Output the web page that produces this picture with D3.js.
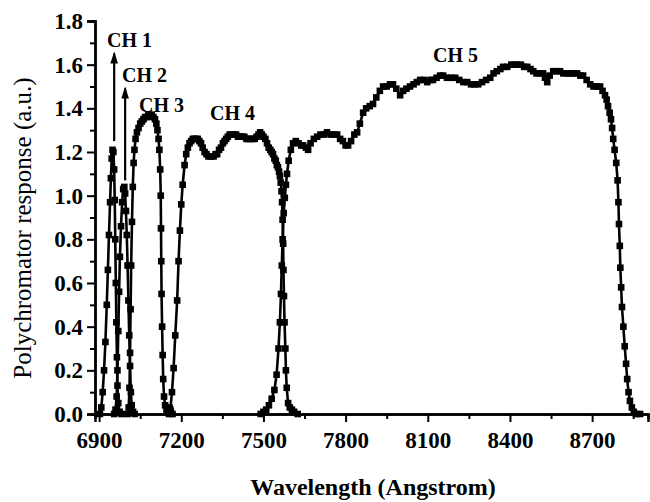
<!DOCTYPE html>
<html>
<head>
<meta charset="utf-8">
<script src="https://cdn.jsdelivr.net/npm/d3@7"></script>
<style>
  body { margin: 0; background: #fff; }
  svg { display: block; font-family: 'Liberation Serif', 'Times New Roman', serif; }
</style>
</head>
<body>
<svg id="chart" width="650" height="502"></svg>
<script>
// channel responses: [wavelength (A), response (a.u.)]
const ch1 = [[6903,0],[6908,0.03],[6913,0.1],[6918,0.2],[6923,0.33],[6928,0.5],[6932,0.66],[6936,0.82],[6940,0.97],
  [6943,1.08],[6946,1.17],[6949,1.21],[6952,1.2],[6955,1.12],[6957,0.98],[6959,0.8],[6961,0.6],[6963,0.42],
  [6965,0.26],[6967,0.13],[6970,0.05],[6975,0.01],[6982,0]]
const ch2 = [[6955,0],[6960,0.02],[6964,0.08],[6967,0.2],[6970,0.38],[6973,0.56],[6976,0.72],[6980,0.86],[6984,0.97],
  [6988,1.03],[6992,1.04],[6995,1.01],[6998,0.93],[7001,0.82],[7004,0.68],[7007,0.52],[7010,0.36],[7013,0.22],
  [7016,0.1],[7019,0.04],[7024,0.01],[7030,0]]
const ch3 = [[7004,0],[7008,0.03],[7011,0.12],[7013,0.28],[7015,0.48],[7017,0.68],[7020,0.88],[7023,1.04],[7026,1.15],
  [7029,1.21],[7033,1.26],[7038,1.29],[7044,1.31],[7050,1.33],[7056,1.34],[7062,1.35],[7068,1.36],[7074,1.36],
  [7080,1.37],[7086,1.37],[7092,1.37],[7098,1.36],[7104,1.35],[7109,1.33],[7113,1.3],[7117,1.26],[7120,1.21],
  [7123,1.12],[7125,1.0],[7126,0.85],[7127,0.7],[7128,0.55],[7130,0.4],[7132,0.27],[7134,0.16],[7137,0.08],
  [7141,0.04],[7146,0.02],[7151,0.02],[7157,0.03],[7162,0.01],[7168,0]]
const ch4 = [[7155,0],[7160,0.02],[7166,0.1],[7172,0.21],[7178,0.36],[7185,0.52],[7190,0.7],[7195,0.84],[7200,0.96],
  [7205,1.05],[7212,1.14],[7218,1.19],[7224,1.22],[7230,1.24],[7236,1.25],[7242,1.26],[7248,1.26],[7254,1.26],
  [7260,1.26],[7266,1.25],[7272,1.24],[7278,1.22],[7285,1.2],[7292,1.19],[7299,1.18],[7305,1.18],[7312,1.18],
  [7318,1.18],[7325,1.19],[7331,1.19],[7338,1.21],[7345,1.22],[7352,1.24],[7358,1.25],[7364,1.26],[7370,1.27],
  [7377,1.28],[7385,1.28],[7392,1.28],[7400,1.28],[7407,1.27],[7415,1.27],[7422,1.27],[7430,1.27],[7438,1.26],
  [7445,1.26],[7452,1.26],[7460,1.26],[7468,1.26],[7475,1.27],[7482,1.28],[7488,1.29],[7494,1.28],[7500,1.27],
  [7507,1.26],[7513,1.24],[7519,1.22],[7525,1.21],[7530,1.2],[7535,1.19],[7540,1.17],[7545,1.16],[7549,1.14],
  [7553,1.13],[7557,1.11],[7560,1.09],[7563,1.06],[7566,1.02],[7568,0.97],[7570,0.89],[7572,0.78],[7573,0.66],
  [7575,0.54],[7577,0.42],[7580,0.3],[7582,0.2],[7585,0.12],[7590,0.05],[7596,0.03],[7604,0.02],[7612,0.01],[7625,0]]
const ch5 = [[7490,0],[7500,0.01],[7510,0.02],[7520,0.04],[7530,0.07],[7540,0.11],[7548,0.18],[7555,0.3],[7560,0.42],
  [7564,0.55],[7567,0.68],[7570,0.8],[7574,0.92],[7578,0.99],[7582,1.05],[7586,1.1],[7592,1.16],[7600,1.21],
  [7608,1.24],[7618,1.25],[7628,1.24],[7638,1.23],[7645,1.23],[7655,1.22],[7663,1.21],[7672,1.24],[7684,1.26],
  [7696,1.27],[7708,1.28],[7720,1.28],[7732,1.29],[7745,1.28],[7757,1.28],[7769,1.28],[7780,1.26],[7790,1.25],
  [7800,1.23],[7809,1.23],[7820,1.25],[7832,1.28],[7842,1.29],[7852,1.33],[7864,1.38],[7875,1.4],[7888,1.41],
  [7900,1.42],[7912,1.45],[7925,1.48],[7937,1.5],[7950,1.5],[7962,1.51],[7973,1.51],[7985,1.49],[7999,1.46],
  [8010,1.48],[8022,1.49],[8035,1.5],[8048,1.51],[8060,1.52],[8072,1.53],[8085,1.53],[8098,1.52],[8110,1.53],
  [8119,1.53],[8132,1.54],[8145,1.55],[8156,1.55],[8170,1.54],[8185,1.54],[8200,1.54],[8215,1.53],[8230,1.52],
  [8244,1.52],[8258,1.51],[8270,1.51],[8284,1.51],[8298,1.52],[8313,1.53],[8328,1.54],[8340,1.56],[8352,1.57],
  [8365,1.58],[8375,1.59],[8390,1.59],[8405,1.6],[8415,1.6],[8426,1.6],[8440,1.6],[8452,1.59],[8463,1.59],
  [8475,1.58],[8485,1.57],[8497,1.56],[8510,1.56],[8521,1.56],[8528,1.54],[8536,1.52],[8545,1.55],[8558,1.57],
  [8570,1.57],[8583,1.57],[8595,1.56],[8610,1.56],[8620,1.56],[8631,1.56],[8645,1.56],[8657,1.55],[8667,1.55],
  [8680,1.53],[8693,1.51],[8705,1.5],[8717,1.5],[8729,1.5],[8738,1.48],[8747,1.46],[8753,1.44],[8758,1.41],
  [8764,1.38],[8769,1.35],[8773,1.31],[8777,1.26],[8782,1.21],[8788,1.15],[8793,1.07],[8796,0.97],[8798,0.87],
  [8801,0.77],[8803,0.67],[8806,0.58],[8809,0.49],[8814,0.4],[8819,0.31],[8824,0.23],[8828,0.16],[8833,0.1],
  [8838,0.06],[8845,0.03],[8852,0.01],[8860,0],[8875,0]]

const channels = [ch1, ch2, ch3, ch4, ch5]

// channel labels: text, wavelength and response of the text start
const labelNames = ['CH 1', 'CH 2', 'CH 3', 'CH 4', 'CH 5']
const labelX = [6929, 6984, 7046, 7305, 8119]
const labelY = [1.68, 1.52, 1.385, 1.345, 1.61]

// arrows under CH 1 and CH 2: wavelength, from response, to response
const arrowX = [6955, 6995]
const arrowFrom = [1.25, 1.07]
const arrowTo = [1.66, 1.5]

const xTicks = [6900, 7200, 7500, 7800, 8100, 8400, 8700]
const yTicks = [0, 0.2, 0.4, 0.6, 0.8, 1.0, 1.2, 1.4, 1.6, 1.8]

const svg = d3.select('#chart')
const ink = '#000'

const xScale = d3.scaleLinear()
  .domain([6885, 8904])
  .range([95, 648])

const yScale = d3.scaleLinear()
  .domain([0, 1.8])
  .range([414, 21])

// minor ticks first so the major ones draw on top
svg.append('g')
  .attr('transform', 'translate(0,414)')
  .call(d3.axisBottom(xScale).tickValues(d3.range(7050, 8900, 300)).tickSize(5).tickFormat(''))
svg.append('g')
  .attr('transform', 'translate(95,0)')
  .call(d3.axisLeft(yScale).tickValues(d3.range(0.1, 1.8, 0.2)).tickSize(5).tickFormat(''))

const xAxis = svg.append('g')
  .attr('transform', 'translate(0,414)')
  .call(d3.axisBottom(xScale).tickValues(xTicks).tickSize(8).tickPadding(10).tickFormat(d3.format('d')))

const yAxis = svg.append('g')
  .attr('transform', 'translate(95,0)')
  .call(d3.axisLeft(yScale).tickValues(yTicks).tickSize(8).tickPadding(4).tickFormat(d3.format('.1f')))

svg.selectAll('.domain').style('stroke', ink).style('stroke-width', 2.4)
svg.selectAll('.tick line').style('stroke', ink).style('stroke-width', 2)
svg.selectAll('.tick text')
  .style('fill', ink)
  .style('font-family', "'Liberation Serif', serif")
  .style('font-size', '23px')
  .style('font-weight', 'bold')

// the curves: a line plus a small square at every reading
const line = d3.line()
  .x(d => xScale(d[0]))
  .y(d => yScale(d[1]))

channels.forEach(ch => {
  svg.append('path')
    .datum(ch)
    .attr('d', line)
    .attr('fill', 'none')
    .attr('stroke', ink)
    .attr('stroke-width', 2.6)
    .attr('stroke-linejoin', 'round')

  svg.append('g')
    .selectAll('rect')
    .data(ch)
    .enter()
    .append('rect')
      .attr('x', d => xScale(d[0]) - 3.3)
      .attr('y', d => yScale(d[1]) - 3.3)
      .attr('width', 6.6)
      .attr('height', 6.6)
      .attr('fill', ink)
})

// arrows
arrowX.forEach((x, i) => {
  svg.append('line')
    .attr('x1', xScale(x))
    .attr('x2', xScale(x))
    .attr('y1', yScale(arrowFrom[i]))
    .attr('y2', yScale(arrowTo[i]) + 2)
    .attr('stroke', ink)
    .attr('stroke-width', 2.2)
  svg.append('path')
    .attr('d', `M ${xScale(x)} ${yScale(arrowTo[i])} l -3.8 12 l 7.6 0 Z`)
    .attr('fill', ink)
})

labelNames.forEach((name, i) => {
  svg.append('text')
    .attr('x', xScale(labelX[i]))
    .attr('y', yScale(labelY[i]))
    .text(name)
    .style('font-size', '20px')
    .style('font-weight', 'bold')
    .style('fill', ink)
})

// axis titles
svg.append('text')
  .attr('text-anchor', 'middle')
  .attr('x', 373)
  .attr('y', 495)
  .text('Wavelength (Angstrom)')
  .style('font-size', '24px')
  .style('font-weight', 'bold')

svg.append('text')
  .attr('text-anchor', 'middle')
  .attr('transform', 'translate(31,228) rotate(-90)')
  .text('Polychromator response (a.u.)')
  .style('font-size', '25px')
</script>
</body>
</html>
